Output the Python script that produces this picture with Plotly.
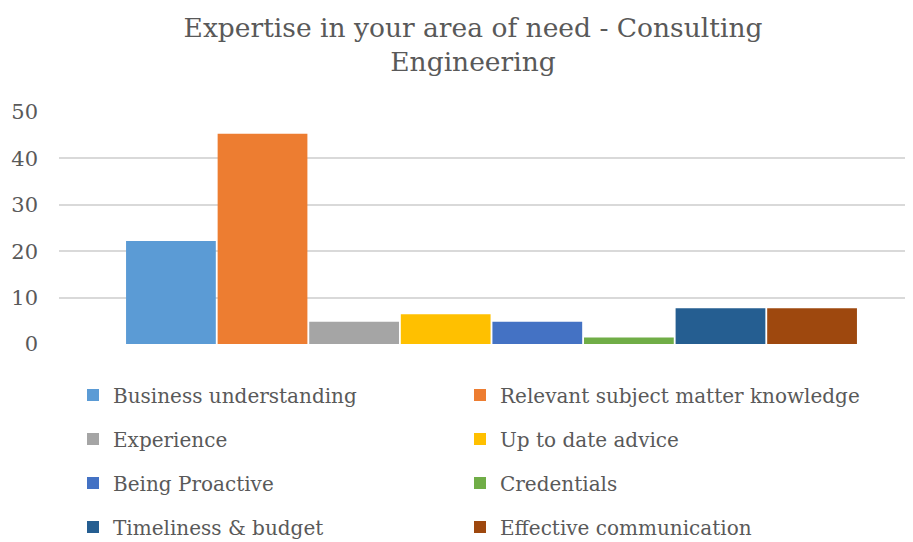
import plotly.graph_objects as go

categories = ["Consulting Engineering"]
series_names = [
    "Business understanding",
    "Relevant subject matter knowledge",
    "Experience",
    "Up to date advice",
    "Being Proactive",
    "Credentials",
    "Timeliness & budget",
    "Effective communication",
]
series_values = [22.2, 45.3, 4.8, 6.4, 4.8, 1.4, 7.7, 7.7]
colors = ["#5b9bd5", "#ed7d31", "#a5a5a5", "#ffc000", "#4472c4", "#70ad47", "#255e91", "#9e480e"]
y_ticks = [0, 10, 20, 30, 40, 50]

FONT = "DejaVu Serif"
GRAY = "#595959"
W, H = 905, 534  # page body has an 8px margin

row_y = [387, 431, 475, 519]  # legend row centres, figure pixels from top
col_x = [65, 452]             # legend column left edges, figure pixels

fig = go.Figure()
layout_legends = {}
for i, (name, val, col) in enumerate(zip(series_names, series_values, colors)):
    lid = "legend" if i == 0 else f"legend{i + 1}"
    fig.add_trace(go.Bar(
        x=[0], y=[val], name=name, marker_color=col,
        marker_line_width=0, legend=lid, showlegend=True,
    ))
    layout_legends[lid] = dict(
        orientation="h", xref="container", yref="container",
        x=col_x[i % 2] / W, xanchor="left", y=1 - row_y[i // 2] / H, yanchor="middle",
        font=dict(family=FONT, size=20, color=GRAY),
        bgcolor="rgba(0,0,0,0)", borderwidth=0,
    )

shift = 5.5 / 854
fig.update_layout(
    width=W, height=H, showlegend=True,
    paper_bgcolor="white", plot_bgcolor="white",
    margin=dict(l=51, r=0, t=104, b=198),
    barmode="group", bargap=0.142, bargroupgap=0.02,
    title=dict(
        text="Expertise in your area of need - Consulting<br>Engineering",
        font=dict(family=FONT, size=26.5, color=GRAY),
        x=465 / W, xref="container", xanchor="center",
        y=1 - 29 / H, yref="container", yanchor="middle",
    ),
    xaxis=dict(showticklabels=False, showgrid=False, zeroline=False, showline=False,
               range=[-0.5 - shift, 0.5 - shift]),
    yaxis=dict(
        range=[0, 50], tickvals=y_ticks, showgrid=True, gridcolor="#d9d9d9", gridwidth=1.5,
        zeroline=False, showline=False, ticks="", ticklabelstandoff=20,
        tickfont=dict(family=FONT, size=21, color=GRAY),
    ),
    **layout_legends,
)

fig.write_html("out.html")
